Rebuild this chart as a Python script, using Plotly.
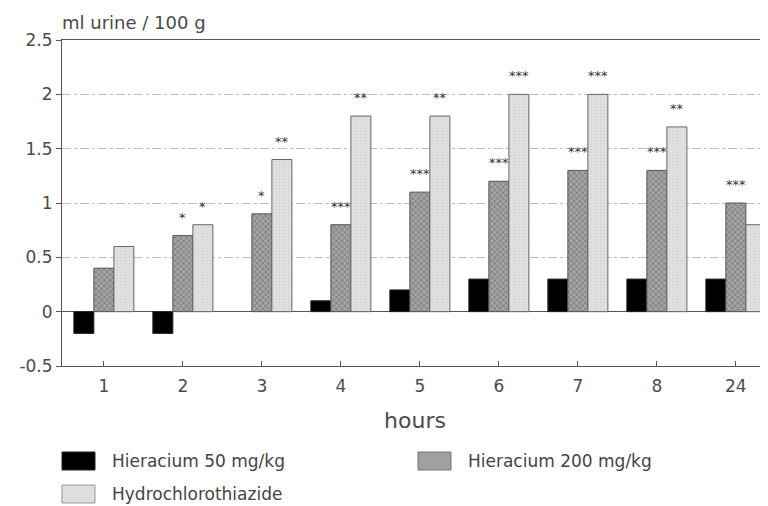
import plotly.graph_objects as go

hours = ["1", "2", "3", "4", "5", "6", "7", "8", "24"]
hier50 = [-0.2, -0.2, None, 0.1, 0.2, 0.3, 0.3, 0.3, 0.3]
hier200 = [0.4, 0.7, 0.9, 0.8, 1.1, 1.2, 1.3, 1.3, 1.0]
hydro = [0.6, 0.8, 1.4, 1.8, 1.8, 2.0, 2.0, 1.7, 0.8]
sig200 = ["", "*", "*", "***", "***", "***", "***", "***", "***"]
sig_hydro = ["", "*", "**", "**", "**", "***", "***", "**", ""]
series_names = ["Hieracium 50 mg/kg", "Hieracium 200 mg/kg", "Hydrochlorothiazide"]

ytick_vals = [-0.5, 0, 0.5, 1, 1.5, 2, 2.5]
ytick_text = ["-0.5", "0", "0.5", "1", "1.5", "2", "2.5"]

font_main = "DejaVu Sans"
grey_txt = "#4a4a4a"

W, H = 760, 498
ML, MT, MB = 54, 32, 140
PW, PH = W - ML, H - MT - MB
STEP = 79  # pixels per hour group


def px(x):  # figure pixel -> paper x
    return (x - ML) / PW


def py(y):  # figure pixel (from top) -> paper y
    return (H - MB - y) / PH


fig = go.Figure()
fig.add_trace(go.Bar(
    x=hours, y=hier50, name=series_names[0],
    marker=dict(color="#000000", line=dict(color="#222222", width=1)),
))
fig.add_trace(go.Bar(
    x=hours, y=hier200, name=series_names[1],
    marker=dict(color="#a4a4a4", line=dict(color="#555555", width=1),
                pattern=dict(shape="x", fgcolor="#555555", size=4, solidity=0.4)),
))
fig.add_trace(go.Bar(
    x=hours, y=hydro, name=series_names[2],
    marker=dict(color="#e2e2e2", line=dict(color="#666666", width=1),
                pattern=dict(shape=".", fgcolor="#c4c4c4", size=3, solidity=0.3)),
))

# significance stars (x as category index)
for i, (v, s) in enumerate(zip(hier200, sig200)):
    if s:
        fig.add_annotation(x=i, y=v, text=s, showarrow=False, xshift=0, yshift=9,
                           yanchor="bottom", font=dict(size=13, color="#333333"))
for i, (v, s) in enumerate(zip(hydro, sig_hydro)):
    if s:
        fig.add_annotation(x=i, y=v, text=s, showarrow=False, xshift=20, yshift=9,
                           yanchor="bottom", font=dict(size=13, color="#333333"))

# legend drawn below the axis: swatch + label
legend_items = [
    (54, 444, "#000000", "#222222"),
    (410, 444, "#a0a0a0", "#777777"),
    (54, 477, "#dedede", "#999999"),
]
for (x0, y0, fill, edge), name in zip(legend_items, series_names):
    fig.add_shape(type="rect", xref="paper", yref="paper",
                  x0=px(x0), x1=px(x0 + 33), y0=py(y0), y1=py(y0 + 18),
                  fillcolor=fill, line=dict(color=edge, width=1))
    fig.add_annotation(text=name, xref="paper", yref="paper",
                       x=px(x0 + 48), y=py(y0 + 9), xanchor="left", yanchor="middle",
                       showarrow=False, font=dict(family=font_main, size=17, color="#444444"))

fig.update_layout(
    width=W, height=H,
    margin=dict(l=ML, r=0, t=MT, b=MB),
    paper_bgcolor="white", plot_bgcolor="white",
    font=dict(family=font_main, size=13, color=grey_txt),
    barmode="group", bargap=0.24, bargroupgap=0,
    showlegend=False,
)
fig.update_xaxes(
    range=[-0.53, -0.53 + PW / STEP], showline=True, linecolor="#555555", linewidth=1, mirror=True,
    ticks="inside", ticklen=5, tickcolor="#555555", showgrid=False,
    tickfont=dict(size=17, color=grey_txt), ticklabelstandoff=5, automargin=False,
    title=dict(text="hours", font=dict(size=22, color=grey_txt), standoff=17),
)
fig.update_yaxes(
    range=[-0.5, 2.5], tickvals=ytick_vals, ticktext=ytick_text, automargin=False,
    showline=True, linecolor="#555555", linewidth=1,
    ticks="outside", ticklen=5, tickcolor="#555555",
    tickfont=dict(size=17, color=grey_txt),
    showgrid=True, gridcolor="#bdbdbd", griddash="dashdot", gridwidth=1,
    zeroline=True, zerolinecolor="#555555", zerolinewidth=1,
)
fig.add_annotation(
    text="ml urine / 100 g", xref="paper", yref="paper", x=0, y=1,
    xanchor="left", yanchor="bottom", yshift=5, xshift=-2, showarrow=False,
    font=dict(family=font_main, size=18, color=grey_txt),
)

fig.write_html("out.html")
